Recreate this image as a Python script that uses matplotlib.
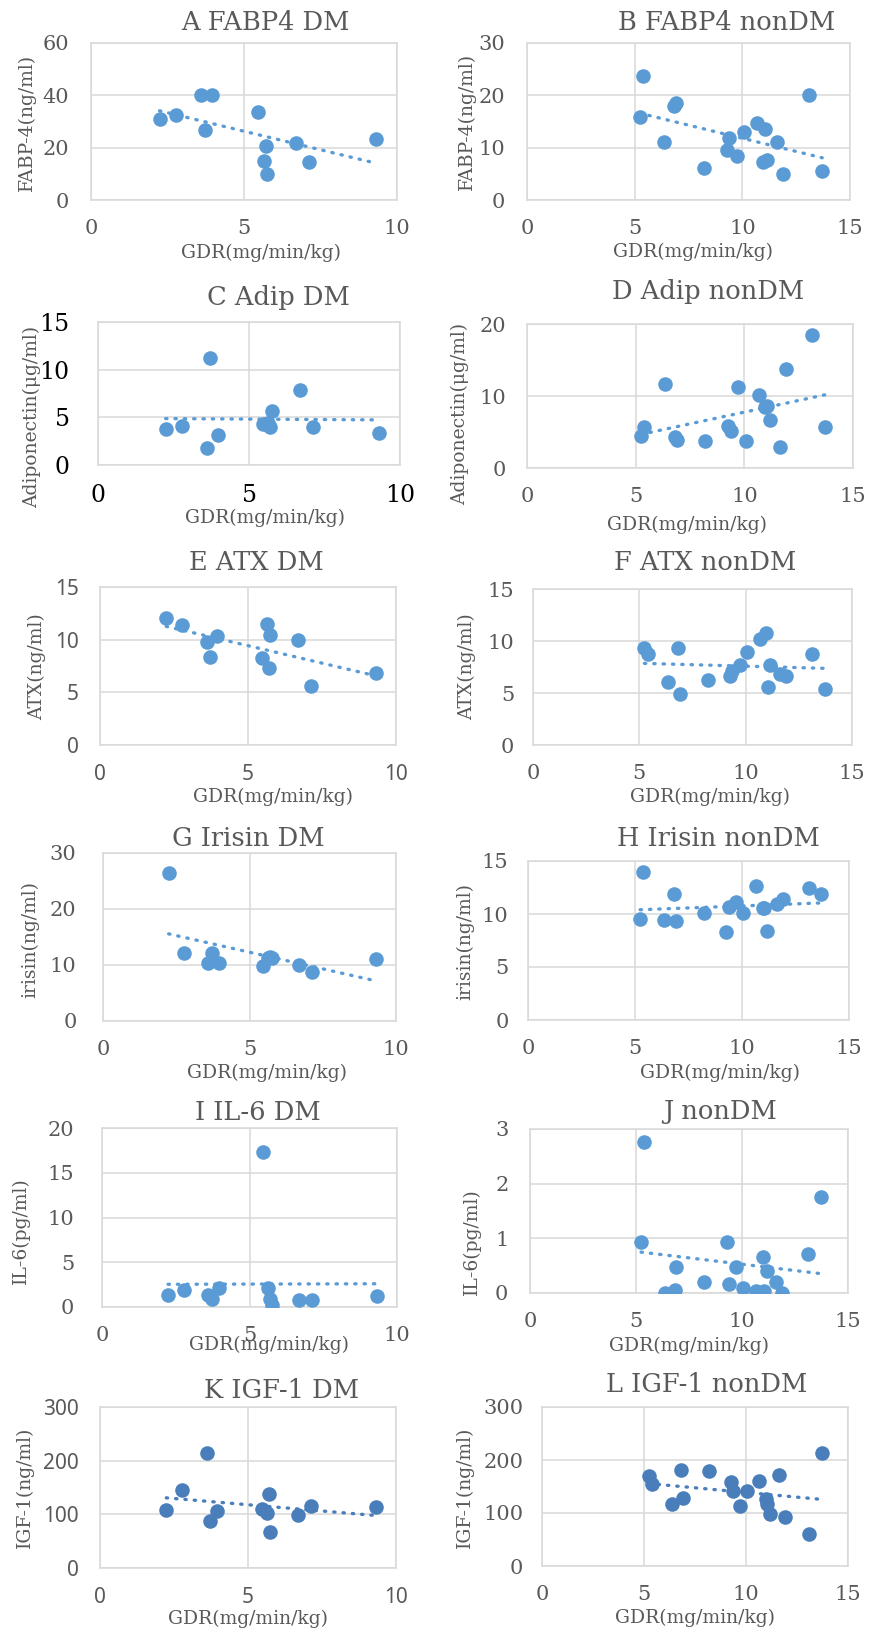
import matplotlib.pyplot as plt
import numpy as np

# GDR (mg/min/kg) of each subject, shared by all panels of a group
gdr_dm = [2.24, 2.78, 3.60, 3.72, 3.96, 5.47, 5.64, 5.71, 5.76, 6.69, 7.13, 9.32]
gdr_non = [5.24, 5.39, 6.37, 6.83, 6.91, 8.21, 9.27, 9.38, 9.73, 10.07,
           10.66, 10.97, 11.05, 11.16, 11.62, 11.90, 13.11, 13.71]

# DM panels
fabp4_dm = [31.1, 32.4, 40.3, 26.7, 40.3, 33.7, 14.9, 20.7, 9.9, 21.9, 14.4, 23.3]
adip_dm = [3.79, 4.14, 1.75, 11.22, 3.15, 4.31, 4.40, 3.96, 5.71, 7.89, 4.03, 3.40]
atx_dm = [12.05, 11.35, 9.77, 8.40, 10.31, 8.25, 11.51, 7.29, 10.47, 9.93, 5.61, 6.88]
irisin_dm = [26.4, 12.07, 10.4, 12.19, 10.28, 9.86, 11.3, 11.5, 11.18, 9.98, 8.79, 11.06]
il6_dm = [1.30, 1.86, 1.30, 0.89, 2.12, 17.33, 2.12, 0.89, 0.19, 0.74, 0.82, 1.19]
igf1_dm = [107.5, 144.7, 214.3, 87.6, 105.6, 110.6, 102.5, 138.5, 67.1, 98.1, 114.9, 113.7]

# nonDM panels
fabp4_non = [15.77, 23.65, 11.0, 17.93, 18.63, 6.04, 9.54, 11.76, 8.46, 13.03,
             14.75, 7.31, 13.48, 7.63, 11.13, 4.90, 20.15, 5.59]
adip_non = [4.49, 5.69, 11.67, 4.26, 3.84, 3.70, 5.88, 5.09, 11.25, 3.70,
            10.09, 8.43, 8.60, 6.62, 2.92, 13.75, 18.52, 5.69]
atx_non = [9.32, 8.77, 6.04, 9.32, 4.88, 6.26, 6.68, 7.10, 7.71, 8.90,
           10.18, 10.76, 5.62, 7.71, 6.84, 6.65, 8.77, 5.40]
irisin_non = [9.50, 13.93, 9.43, 11.89, 9.37, 10.06, 8.33, 10.63, 11.16, 10.06,
              12.64, 10.53, 10.60, 8.40, 10.91, 11.38, 12.42, 11.86]
il6_non = [0.925, 2.76, 0.0, 0.05, 0.47, 0.20, 0.925, 0.16, 0.47, 0.09,
           0.04, 0.65, 0.04, 0.41, 0.21, 0.0, 0.72, 1.75]
igf1_non = [169.8, 155.3, 117.6, 181.8, 128.9, 179.2, 158.5, 141.5, 113.2, 141.5,
            159.7, 126.0, 117.6, 98.7, 171.1, 92.5, 61.0, 213.2]

titles = ['A FABP4 DM', 'B FABP4 nonDM', 'C Adip DM', 'D Adip nonDM',
          'E ATX DM', 'F ATX nonDM', 'G Irisin DM', 'H Irisin nonDM',
          'I IL-6 DM', 'J nonDM', 'K IGF-1 DM', 'L IGF-1 nonDM']
ylabels = ['FABP-4(ng/ml)', 'FABP-4(ng/ml)', 'Adiponectin(μg/ml)', 'Adiponectin(μg/ml)',
           'ATX(ng/ml)', 'ATX(ng/ml)', 'irisin(ng/ml)', 'irisin(ng/ml)',
           'IL-6(pg/ml)', 'IL-6(pg/ml)', 'IGF-1(ng/ml)', 'IGF-1(ng/ml)']
series = [fabp4_dm, fabp4_non, adip_dm, adip_non, atx_dm, atx_non,
          irisin_dm, irisin_non, il6_dm, il6_non, igf1_dm, igf1_non]
ymax = [60, 30, 15, 20, 15, 15, 30, 15, 20, 3, 300, 300]
ystep = [20, 10, 5, 10, 5, 5, 10, 5, 5, 1, 100, 100]

W, H = 869, 1629
# plot area (x0, y0, x1, y1) in pixels from top-left
boxes = [(91, 43, 397, 200), (527, 43, 850, 200),
         (98, 322, 400, 465), (527, 324, 853, 468),
         (100, 587, 396, 745), (533, 589, 852, 745),
         (103, 853, 396, 1021), (528, 861, 849, 1020),
         (102, 1128, 397, 1307), (530, 1129, 848, 1293),
         (100, 1407, 396, 1568), (542, 1407, 848, 1566)]
title_xy = [(265, 22), (727, 22), (278, 297), (708, 292), (256, 563), (705, 563),
            (248, 838), (718, 839), (258, 1112), (720, 1112), (282, 1390), (707, 1385)]
ylab_xy = [(27, 122), (467, 121), (32, 417), (460, 414), (37, 667), (467, 667),
           (30, 940), (465, 942), (21, 1231), (472, 1242), (25, 1487), (465, 1487)]
xlab_xy = [(261, 253), (693, 252), (265, 518), (687, 525), (273, 797), (710, 797),
           (267, 1073), (720, 1073), (269, 1345), (689, 1346), (248, 1619), (695, 1618)]
ypads = [15.5, 16, 20.5, 15, 15, 13.5, 19, 14, 20, 15.5, 15, 13.5]

grey = '#595959'
blue = '#5B9BD5'
blue_dark = '#4A7EBB'
serif = 'DejaVu Serif'

fig = plt.figure(figsize=(W / 100, H / 100), dpi=100)

for i in range(12):
    x0, y0, x1, y1 = boxes[i]
    ax = fig.add_axes([x0 / W, 1 - y1 / H, (x1 - x0) / W, (y1 - y0) / H])
    gdr = gdr_dm if i % 2 == 0 else gdr_non
    xmax = 10 if i % 2 == 0 else 15
    col = blue_dark if i >= 10 else blue
    x = np.array(gdr)
    y = np.array(series[i])

    ax.scatter(x, y, s=110, color=col, zorder=3, linewidths=0)
    k, b = np.polyfit(x, y, 1)
    xt = np.array([x.min(), x.max()])
    ax.plot(xt, k * xt + b, color=col, lw=2.4, linestyle=(0, (0.4, 2.4)),
            dash_capstyle='round', zorder=2)

    ax.set_xlim(0, xmax)
    ax.set_ylim(0, ymax[i])
    ax.set_xticks(np.arange(0, xmax + 1, 5))
    ax.set_yticks(np.arange(0, ymax[i] + ystep[i] / 2, ystep[i]))
    ax.grid(True, color='#D9D9D9', lw=1.1, zorder=0)
    ax.set_axisbelow(True)
    for s in ax.spines.values():
        s.set_color('#D9D9D9')
        s.set_linewidth(1.1)

    if i == 2:
        tcol, tsize, tfam = 'black', 17, serif
    elif i in (4, 10):
        tcol, tsize, tfam = grey, 15, 'Noto Sans'
    else:
        tcol, tsize, tfam = grey, 15, serif
    ax.tick_params(axis='both', length=0, labelcolor=tcol, labelsize=tsize)
    ax.tick_params(axis='x', pad=14)
    ax.tick_params(axis='y', pad=ypads[i])
    for lab in ax.get_xticklabels() + ax.get_yticklabels():
        lab.set_family(tfam)

    tx, ty = title_xy[i]
    fig.text(tx / W, 1 - ty / H, titles[i], ha='center', va='center',
             family=serif, fontsize=18.5, color=grey)
    lx, ly = ylab_xy[i]
    fig.text(lx / W, 1 - ly / H, ylabels[i], ha='center', va='center',
             rotation=90, family=serif, fontsize=13.5, color=grey)
    gx, gy = xlab_xy[i]
    fig.text(gx / W, 1 - gy / H, 'GDR(mg/min/kg)', ha='center', va='center',
             family=serif, fontsize=13.5, color=grey)

fig.savefig('out.png', dpi=100, facecolor='white')
